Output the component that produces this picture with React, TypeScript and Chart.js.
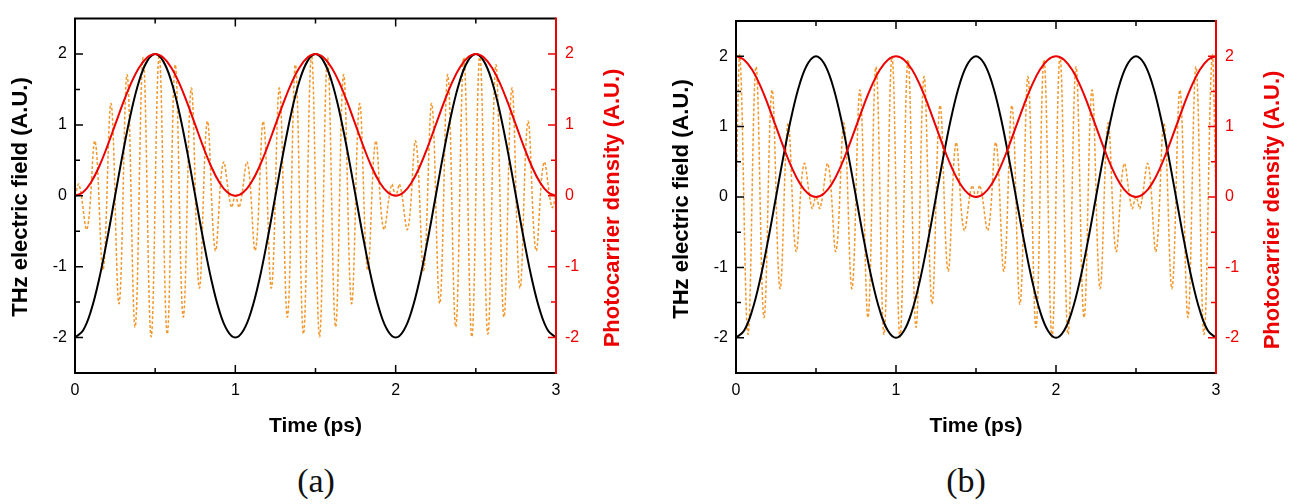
import React, { useEffect, useRef } from "react";
import { Chart, registerables } from "chart.js";
Chart.register(...registerables);

// ---- data ----
const timeFine = [
  0, 0.05, 0.1, 0.15, 0.2, 0.25, 0.3, 0.35, 0.4, 0.45, 0.5, 0.55, 0.6, 0.65, 0.7, 0.75, 0.8, 0.85, 0.9, 0.95,
  1, 1.05, 1.1, 1.15, 1.2, 1.25, 1.3, 1.35, 1.4, 1.45, 1.5, 1.55, 1.6, 1.65, 1.7, 1.75, 1.8, 1.85, 1.9, 1.95,
  2, 2.05, 2.1, 2.15, 2.2, 2.25, 2.3, 2.35, 2.4, 2.45, 2.5, 2.55, 2.6, 2.65, 2.7, 2.75, 2.8, 2.85, 2.9, 2.95, 3,
];

const thzField = [
  -2, -1.9, -1.62, -1.18, -0.62, 0, 0.62, 1.18, 1.62, 1.9, 2, 1.9, 1.62, 1.18, 0.62, 0, -0.62, -1.18, -1.62, -1.9,
  -2, -1.9, -1.62, -1.18, -0.62, 0, 0.62, 1.18, 1.62, 1.9, 2, 1.9, 1.62, 1.18, 0.62, 0, -0.62, -1.18, -1.62, -1.9,
  -2, -1.9, -1.62, -1.18, -0.62, 0, 0.62, 1.18, 1.62, 1.9, 2, 1.9, 1.62, 1.18, 0.62, 0, -0.62, -1.18, -1.62, -1.9,
  -2,
];

const carrierA = [
  0, 0.05, 0.19, 0.41, 0.69, 1, 1.31, 1.59, 1.81, 1.95, 2, 1.95, 1.81, 1.59, 1.31, 1, 0.69, 0.41, 0.19, 0.05,
  0, 0.05, 0.19, 0.41, 0.69, 1, 1.31, 1.59, 1.81, 1.95, 2, 1.95, 1.81, 1.59, 1.31, 1, 0.69, 0.41, 0.19, 0.05,
  0, 0.05, 0.19, 0.41, 0.69, 1, 1.31, 1.59, 1.81, 1.95, 2, 1.95, 1.81, 1.59, 1.31, 1, 0.69, 0.41, 0.19, 0.05,
  0,
];

const carrierB = [
  2, 1.95, 1.81, 1.59, 1.31, 1, 0.69, 0.41, 0.19, 0.05, 0, 0.05, 0.19, 0.41, 0.69, 1, 1.31, 1.59, 1.81, 1.95,
  2, 1.95, 1.81, 1.59, 1.31, 1, 0.69, 0.41, 0.19, 0.05, 0, 0.05, 0.19, 0.41, 0.69, 1, 1.31, 1.59, 1.81, 1.95,
  2, 1.95, 1.81, 1.59, 1.31, 1, 0.69, 0.41, 0.19, 0.05, 0, 0.05, 0.19, 0.41, 0.69, 1, 1.31, 1.59, 1.81, 1.95,
  2,
];

const opticalTimesA = [
  0, 0.025, 0.075, 0.125, 0.175, 0.225, 0.275, 0.325, 0.375, 0.425, 0.475, 0.525, 0.575, 0.625, 0.675, 0.725, 0.775, 0.825, 0.875, 0.925, 0.975,
  1, 1.025, 1.075, 1.125, 1.175, 1.225, 1.275, 1.325, 1.375, 1.425, 1.475, 1.525, 1.575, 1.625, 1.675, 1.725, 1.775, 1.825, 1.875, 1.925, 1.975,
  2, 2.025, 2.075, 2.125, 2.175, 2.225, 2.275, 2.325, 2.375, 2.425, 2.475, 2.525, 2.575, 2.625, 2.675, 2.725, 2.775, 2.825, 2.875, 2.925, 2.975,
  3,
];
const opticalA = [
  0, 0.16, -0.47, 0.77, -1.05, 1.3, -1.52, 1.71, -1.85, 1.95, -1.99, 1.99, -1.95, 1.85, -1.71, 1.52, -1.3, 1.05, -0.77, 0.47, -0.16,
  0, -0.16, 0.47, -0.77, 1.05, -1.3, 1.52, -1.71, 1.85, -1.95, 1.99, -1.99, 1.95, -1.85, 1.71, -1.52, 1.3, -1.05, 0.77, -0.47, 0.16,
  0, 0.16, -0.47, 0.77, -1.05, 1.3, -1.52, 1.71, -1.85, 1.95, -1.99, 1.99, -1.95, 1.85, -1.71, 1.52, -1.3, 1.05, -0.77, 0.47, -0.16,
  0,
];

const opticalTimesB = [
  0, 0.025, 0.075, 0.125, 0.175, 0.225, 0.275, 0.325, 0.375, 0.425, 0.475,
  0.5, 0.525, 0.575, 0.625, 0.675, 0.725, 0.775, 0.825, 0.875, 0.925, 0.975, 1.025, 1.075, 1.125, 1.175, 1.225, 1.275, 1.325, 1.375, 1.425, 1.475,
  1.5, 1.525, 1.575, 1.625, 1.675, 1.725, 1.775, 1.825, 1.875, 1.925, 1.975, 2.025, 2.075, 2.125, 2.175, 2.225, 2.275, 2.325, 2.375, 2.425, 2.475,
  2.5, 2.525, 2.575, 2.625, 2.675, 2.725, 2.775, 2.825, 2.875, 2.925, 2.975,
  3,
];
const opticalB = [
  0, 1.99, -1.95, 1.85, -1.71, 1.52, -1.3, 1.05, -0.77, 0.47, -0.16,
  0, -0.16, 0.47, -0.77, 1.05, -1.3, 1.52, -1.71, 1.85, -1.95, 1.99, -1.99, 1.95, -1.85, 1.71, -1.52, 1.3, -1.05, 0.77, -0.47, 0.16,
  0, 0.16, -0.47, 0.77, -1.05, 1.3, -1.52, 1.71, -1.85, 1.95, -1.99, 1.99, -1.95, 1.85, -1.71, 1.52, -1.3, 1.05, -0.77, 0.47, -0.16,
  0, -0.16, 0.47, -0.77, 1.05, -1.3, 1.52, -1.71, 1.85, -1.95, 1.99,
  0,
];

const xMajor = [0, 1, 2, 3];
const xMinor = [0.5, 1.5, 2.5];
const yMajor = [-2, -1, 0, 1, 2];
const yMinor = [-1.5, -0.5, 0.5, 1.5];

const xTitle = "Time (ps)";
const yTitleLeft = "THz electric field (A.U.)";
const yTitleRight = "Photocarrier density (A.U.)";
const panelLabels = ["(a)", "(b)"];

// ---- styles ----
const RED = "rgb(236,0,0)";
const ORANGE = "rgb(242,152,46)";
const BLACK = "#000";
const TICK_FONT = { family: '"Liberation Sans", Arial, sans-serif', size: 16 };
const TITLE_FONT = 'bold 22px "Liberation Sans", Arial, sans-serif';
const XTITLE_FONT = 'bold 21px "Liberation Sans", Arial, sans-serif';

type PanelCfg = {
  canvasLeft: number;
  width: number;
  height: number;
  left: number;
  right: number;
  top: number;
  bottom: number;
  leftTitle: [number, number];
  rightTitle: [number, number];
  xTitleY: number;
};

const panelA: PanelCfg = {
  canvasLeft: 0, width: 650, height: 450,
  left: 75, right: 556, top: 18, bottom: 373,
  leftTitle: [21, 197], rightTitle: [613, 208], xTitleY: 432,
};
const panelB: PanelCfg = {
  canvasLeft: 660, width: 641, height: 450,
  left: 76, right: 556, top: 21, bottom: 373,
  leftTitle: [22, 199], rightTitle: [613, 210], xTitleY: 432,
};

const pts = (xs: number[], ys: number[]) => xs.map((x, i) => ({ x, y: ys[i] }));

function makeChart(canvas: HTMLCanvasElement, cfg: PanelCfg, carrier: number[], optT: number[], optV: number[]) {
  const frame = {
    id: "frameAxes",
    afterDatasetsDraw(chart: any) {
      const { ctx, chartArea: a, scales } = chart;
      const xs = scales.x, ys = scales.y, y2 = scales.y2;
      ctx.save();
      // black frame: top, left, bottom
      ctx.strokeStyle = BLACK;
      ctx.lineWidth = 2;
      ctx.beginPath();
      ctx.moveTo(a.right, a.top);
      ctx.lineTo(a.left, a.top);
      ctx.lineTo(a.left, a.bottom);
      ctx.lineTo(a.right, a.bottom);
      ctx.stroke();
      // black ticks
      ctx.lineWidth = 1.5;
      ctx.beginPath();
      const xt = (v: number, len: number) => {
        const p = xs.getPixelForValue(v);
        ctx.moveTo(p, a.bottom); ctx.lineTo(p, a.bottom - len);
        ctx.moveTo(p, a.top); ctx.lineTo(p, a.top + len);
      };
      xMajor.forEach((v) => xt(v, 8));
      xMinor.forEach((v) => xt(v, 5));
      yMajor.forEach((v) => { const p = ys.getPixelForValue(v); ctx.moveTo(a.left, p); ctx.lineTo(a.left + 8, p); });
      yMinor.forEach((v) => { const p = ys.getPixelForValue(v); ctx.moveTo(a.left, p); ctx.lineTo(a.left + 5, p); });
      ctx.stroke();
      // red right axis
      ctx.strokeStyle = RED;
      ctx.lineWidth = 2;
      ctx.beginPath();
      ctx.moveTo(a.right, a.top - 1);
      ctx.lineTo(a.right, a.bottom + 1);
      ctx.stroke();
      ctx.lineWidth = 1.5;
      ctx.beginPath();
      yMajor.forEach((v) => { const p = y2.getPixelForValue(v); ctx.moveTo(a.right, p); ctx.lineTo(a.right - 8, p); });
      yMinor.forEach((v) => { const p = y2.getPixelForValue(v); ctx.moveTo(a.right, p); ctx.lineTo(a.right - 5, p); });
      ctx.stroke();
      // titles
      ctx.fillStyle = BLACK;
      ctx.font = XTITLE_FONT;
      ctx.textAlign = "center";
      ctx.textBaseline = "alphabetic";
      ctx.fillText(xTitle, (a.left + a.right) / 2, cfg.xTitleY);
      ctx.font = TITLE_FONT;
      ctx.textBaseline = "middle";
      ctx.save();
      ctx.translate(cfg.leftTitle[0], cfg.leftTitle[1]);
      ctx.rotate(-Math.PI / 2);
      ctx.fillText(yTitleLeft, 0, 0);
      ctx.restore();
      ctx.save();
      ctx.fillStyle = RED;
      ctx.translate(cfg.rightTitle[0], cfg.rightTitle[1]);
      ctx.rotate(-Math.PI / 2);
      ctx.fillText(yTitleRight, 0, 0);
      ctx.restore();
      ctx.restore();
    },
  };

  const yScale = (pos: "left" | "right", color: string, width: number, padding: number) => ({
    type: "linear",
    position: pos,
    min: -2.5,
    max: 2.5,
    bounds: "data",
    afterBuildTicks: (s: any) => { s.ticks = yMajor.map((v) => ({ value: v })); },
    afterFit: (s: any) => { s.width = width; },
    grid: { display: false, drawTicks: false },
    border: { display: false },
    ticks: { padding, font: TICK_FONT, color, callback: (v: any) => String(v) },
  });

  return new Chart(canvas, {
    type: "line",
    data: {
      datasets: [
        { data: pts(timeFine, carrier), borderColor: RED, borderWidth: 2, yAxisID: "y2", tension: 0.4, pointRadius: 0 },
        { data: pts(timeFine, thzField), borderColor: BLACK, borderWidth: 2, yAxisID: "y", tension: 0.4, pointRadius: 0 },
        { data: pts(optT, optV), borderColor: ORANGE, borderWidth: 1.5, borderDash: [3, 2], yAxisID: "y", tension: 0.4, pointRadius: 0 },
      ],
    } as any,
    options: {
      responsive: false,
      animation: false,
      events: [],
      layout: { padding: { top: cfg.top, left: 0, right: 0, bottom: 0 } },
      plugins: { legend: { display: false }, tooltip: { enabled: false } },
      scales: {
        x: {
          type: "linear",
          position: "bottom",
          min: 0,
          max: 3,
          bounds: "data",
          afterBuildTicks: (s: any) => { s.ticks = xMajor.map((v) => ({ value: v })); },
          afterFit: (s: any) => { s.height = cfg.height - cfg.bottom; },
          grid: { display: false, drawTicks: false },
          border: { display: false },
          ticks: { padding: 8, font: TICK_FONT, color: BLACK, maxRotation: 0, autoSkip: false, callback: (v: any) => String(v) },
        },
        y: yScale("left", BLACK, cfg.left, 8),
        y2: yScale("right", RED, cfg.width - cfg.right, 9),
      } as any,
    },
    plugins: [frame],
  } as any);
}

export default function App() {
  const refA = useRef<HTMLCanvasElement>(null);
  const refB = useRef<HTMLCanvasElement>(null);
  useEffect(() => {
    const a = makeChart(refA.current!, panelA, carrierA, opticalTimesA, opticalA);
    const b = makeChart(refB.current!, panelB, carrierB, opticalTimesB, opticalB);
    return () => { a.destroy(); b.destroy(); };
  }, []);
  const labelStyle = (cx: number): React.CSSProperties => ({
    position: "absolute",
    left: cx - 40,
    width: 80,
    top: 461,
    textAlign: "center",
    fontFamily: '"Liberation Serif", "DejaVu Serif", serif',
    fontSize: 34,
    lineHeight: "40px",
    color: "#111",
  });
  return (
    <div style={{ position: "absolute", left: 0, top: 0, width: 1301, height: 504, background: "#fff", overflow: "hidden" }}>
      <canvas ref={refA} width={panelA.width} height={panelA.height}
        style={{ position: "absolute", left: panelA.canvasLeft, top: 0, width: panelA.width, height: panelA.height }} />
      <canvas ref={refB} width={panelB.width} height={panelB.height}
        style={{ position: "absolute", left: panelB.canvasLeft, top: 0, width: panelB.width, height: panelB.height }} />
      <div style={labelStyle(316)}>{panelLabels[0]}</div>
      <div style={labelStyle(966)}>{panelLabels[1]}</div>
    </div>
  );
}
